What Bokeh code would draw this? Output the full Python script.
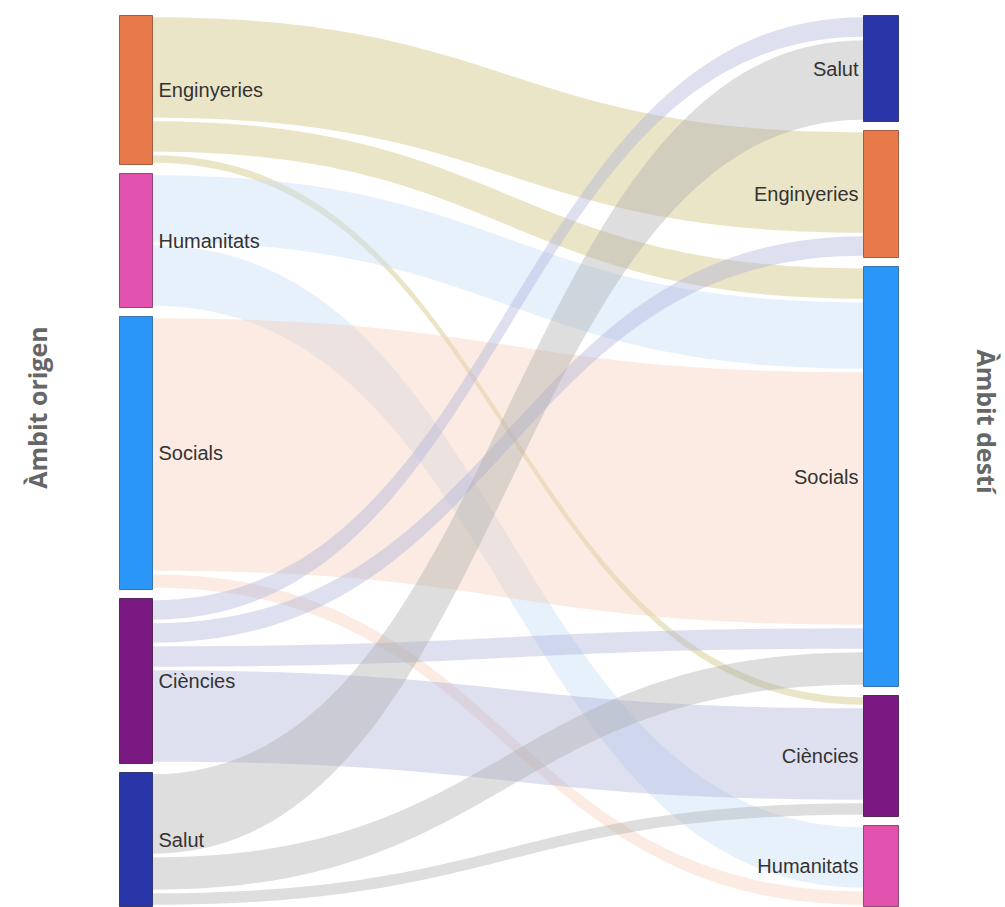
import numpy as np
from bokeh.plotting import figure
from bokeh.models import Range1d, ColumnDataSource
from bokeh.core.properties import value
from bokeh.embed import file_html
from bokeh.resources import INLINE

# ---------------- data ----------------
left_nodes = ["Enginyeries", "Humanitats", "Socials", "Ciències", "Salut"]
right_nodes = ["Salut", "Enginyeries", "Socials", "Ciències", "Humanitats"]

link_source = ["Enginyeries", "Enginyeries", "Enginyeries",
               "Humanitats", "Humanitats",
               "Socials", "Socials",
               "Ciències", "Ciències", "Ciències", "Ciències",
               "Salut", "Salut", "Salut"]
link_target = ["Enginyeries", "Socials", "Ciències",
               "Socials", "Humanitats",
               "Socials", "Humanitats",
               "Salut", "Enginyeries", "Socials", "Ciències",
               "Salut", "Socials", "Ciències"]
link_value = [104, 34, 11,
              70, 64,
              256, 17,
              23, 23, 24, 95,
              83, 36, 15]

title_left = "Àmbit origen"
title_right = "Àmbit destí"

# ---------------- styles ----------------
node_color = {"Enginyeries": "#E8794A", "Humanitats": "#E052AE", "Socials": "#2A97F8",
              "Ciències": "#7B1982", "Salut": "#2A36A8"}
node_line = {"Enginyeries": "#8a4a2e", "Humanitats": "#7d3062", "Socials": "#1f5f99",
             "Ciències": "#3e0d42", "Salut": "#18205f"}
link_color = {"Enginyeries": "#cdbe75", "Humanitats": "#c4dcf8", "Socials": "#f5cdb6",
              "Ciències": "#acb1d9", "Salut": "#acacac"}
link_alpha = 0.40

# ---------------- layout ----------------
TOP = 15
PAD = 9
LX0, LX1 = 119, 152
RX0, RX1 = 863, 898
INSET = 1.8
W, H = 1005, 907

def totals(nodes, key_list):
    return {n: sum(v for k, v in zip(key_list, link_value) if k == n) for n in nodes}

ltot = totals(left_nodes, link_source)
rtot = totals(right_nodes, link_target)

def positions(nodes, tot):
    pos = {}
    y = TOP
    for n in nodes:
        pos[n] = (y, y + tot[n])
        y += tot[n] + PAD
    return pos

lpos = positions(left_nodes, ltot)
rpos = positions(right_nodes, rtot)

idx = list(range(len(link_value)))
src_off = {}
for n in left_nodes:
    y = lpos[n][0]
    for i in sorted([i for i in idx if link_source[i] == n], key=lambda i: right_nodes.index(link_target[i])):
        src_off[i] = y
        y += link_value[i]
tgt_off = {}
for n in right_nodes:
    y = rpos[n][0]
    for i in sorted([i for i in idx if link_target[i] == n], key=lambda i: left_nodes.index(link_source[i])):
        tgt_off[i] = y
        y += link_value[i]

t = np.linspace(0, 1, 80)
def bez(a, b, c, d):
    return (1 - t) ** 3 * a + 3 * (1 - t) ** 2 * t * b + 3 * (1 - t) * t ** 2 * c + t ** 3 * d

xm = (LX1 + RX0) / 2
xs_l, ys_l, cs_l = [], [], []
for i in idx:
    y0a = src_off[i] + INSET
    y0b = src_off[i] + link_value[i] - INSET
    y1a = tgt_off[i] + INSET
    y1b = tgt_off[i] + link_value[i] - INSET
    xt = bez(LX1, xm, xm, RX0)
    yt = bez(y0a, y0a, y1a, y1a)
    yb = bez(y0b, y0b, y1b, y1b)
    xs_l.append(list(xt) + list(xt[::-1]))
    ys_l.append(list(yt) + list(yb[::-1]))
    cs_l.append(link_color[link_source[i]])

p = figure(width=W, height=H, output_backend="svg", toolbar_location=None, tools="",
           x_axis_type=None, y_axis_type=None,
           x_range=Range1d(0, W), y_range=Range1d(H, 0))
p.min_border = 0
p.outline_line_color = None
p.grid.visible = False
p.background_fill_color = "white"

p.patches(xs=xs_l, ys=ys_l, fill_color=cs_l, fill_alpha=link_alpha, line_color=None)

def node_src(nodes, pos, x0, x1):
    return ColumnDataSource(dict(
        left=[x0] * len(nodes), right=[x1] * len(nodes),
        top=[pos[n][0] for n in nodes], bottom=[pos[n][1] for n in nodes],
        fill=[node_color[n] for n in nodes], line=[node_line[n] for n in nodes],
        name=nodes, ymid=[(pos[n][0] + pos[n][1]) / 2 for n in nodes]))

ls = node_src(left_nodes, lpos, LX0, LX1)
rs = node_src(right_nodes, rpos, RX0, RX1)
for s in (ls, rs):
    p.quad(left="left", right="right", top="top", bottom="bottom", source=s,
           fill_color="fill", line_color="line", line_width=1, line_alpha=0.8)

p.text(x=LX1 + 6, y="ymid", text="name", source=ls, text_font=value("Liberation Sans"),
       text_font_size="20px", text_color="#333333", text_align="left", text_baseline="middle")
p.text(x=RX0 - 5, y="ymid", text="name", source=rs, text_font=value("Liberation Sans"),
       text_font_size="20px", text_color="#333333", text_align="right", text_baseline="middle")

p.text(x=[36], y=[407], text=[title_left], angle=np.pi / 2, text_font=value("Open Sans"),
       text_font_style="bold", text_font_size="25px", text_color="#666666",
       text_align="center", text_baseline="middle")
p.text(x=[986], y=[421], text=[title_right], angle=-np.pi / 2, text_font=value("Open Sans"),
       text_font_style="bold", text_font_size="25px", text_color="#666666",
       text_align="center", text_baseline="middle")

open("out.html", "w").write(file_html(p, INLINE))
